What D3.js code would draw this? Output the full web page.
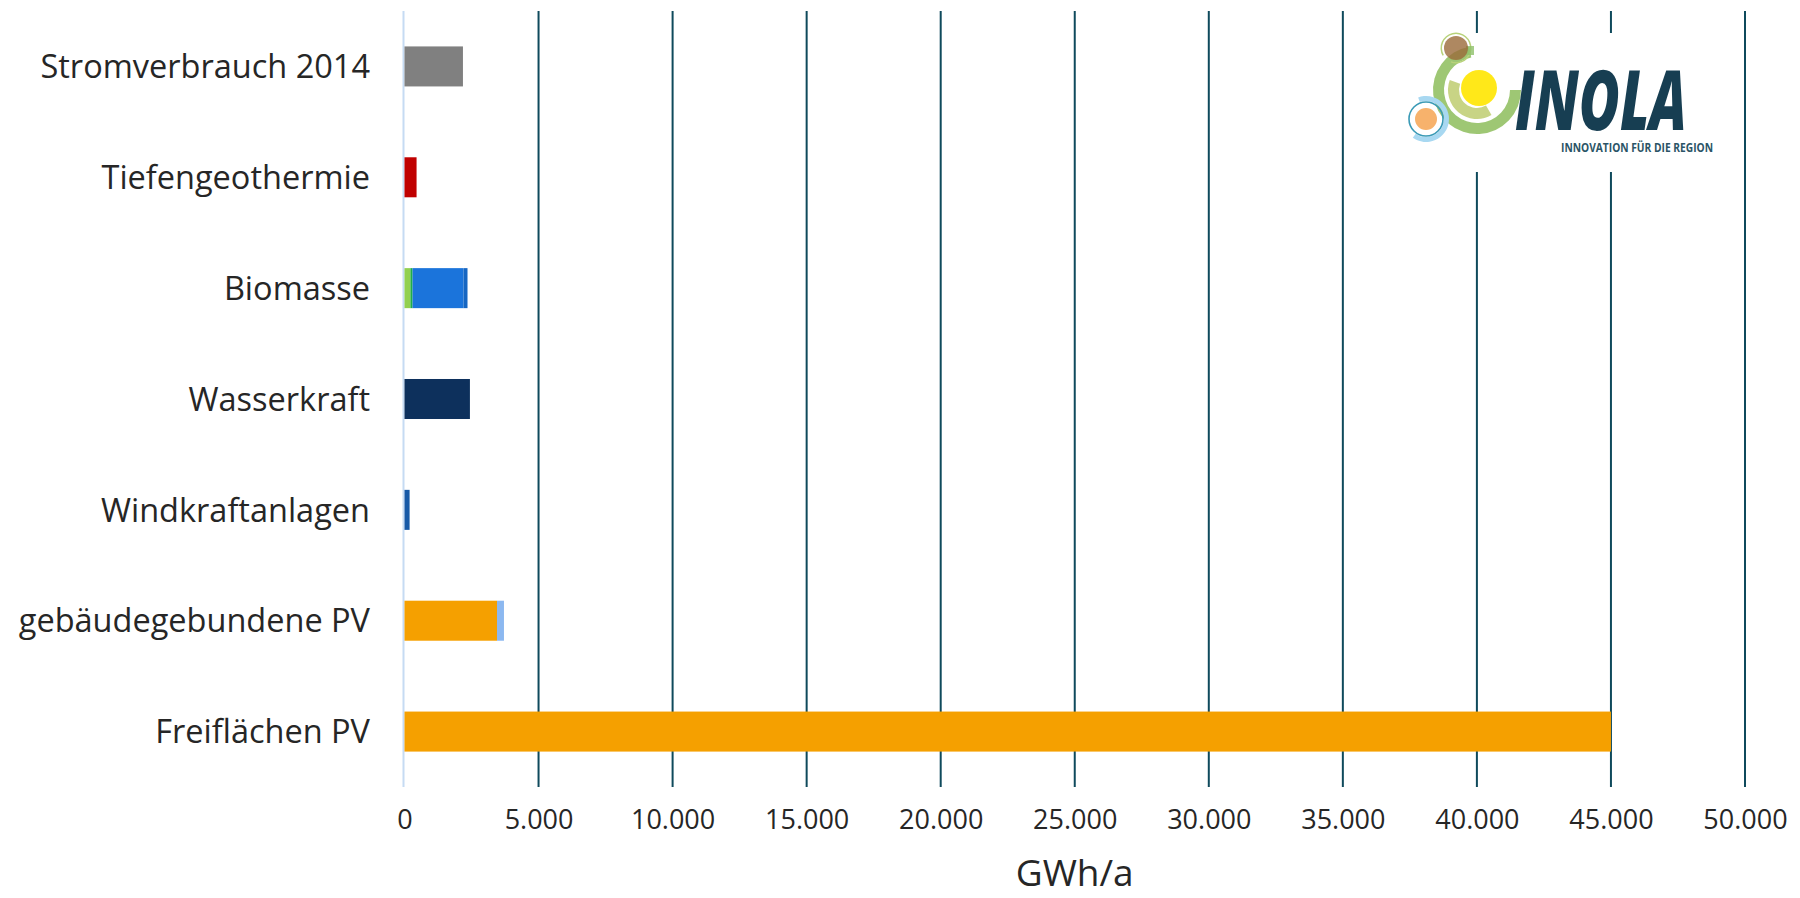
<!DOCTYPE html>
<html><head><meta charset="utf-8">
<script src="https://cdn.jsdelivr.net/npm/d3@7"></script>
<style>
html,body{margin:0;padding:0;background:#fff;}
svg{display:block;}
text{font-family:"Open Sans","Noto Sans",sans-serif;fill:#262626;}
</style></head>
<body>
<svg id="chart" width="1800" height="898"></svg>
<script>
// ---- data ----
const categories = ["Stromverbrauch 2014","Tiefengeothermie","Biomasse","Wasserkraft","Windkraftanlagen","gebäudegebundene PV","Freiflächen PV"];
const seriesNames = ["Stromverbrauch","Tiefengeothermie","Biomasse A","Biomasse B","Biomasse C","Biomasse D","Wasserkraft","Windkraft","Photovoltaik","PV Zusatz"];
const stromverbrauch   = [2180,0,0,0,0,0,0];
const tiefengeothermie = [0,450,0,0,0,0,0];
const biomasseA        = [0,0,220,0,0,0,0];
const biomasseB        = [0,0,80,0,0,0,0];
const biomasseC        = [0,0,1900,0,0,0,0];
const biomasseD        = [0,0,150,0,0,0,0];
const wasserkraft      = [0,0,0,2440,0,0,0];
const windkraft        = [0,0,0,0,190,0,0];
const photovoltaik     = [0,0,0,0,0,3450,45000];
const pvZusatz         = [0,0,0,0,0,260,0];
const seriesColors = ["#808080","#c00000","#92d050","#1fae4a","#1b74db","#1666c2","#0d305c","#1659a7","#f5a000","#8cb8f0"];
const xTicks = [0,5000,10000,15000,20000,25000,30000,35000,40000,45000,50000];
const xTitle = "GWh/a";

// ---- build table ----
const seriesValues = [stromverbrauch,tiefengeothermie,biomasseA,biomasseB,biomasseC,biomasseD,wasserkraft,windkraft,photovoltaik,pvZusatz];
const table = categories.map((c,i)=>{
  const row={category:c};
  seriesNames.forEach((s,j)=>row[s]=seriesValues[j][i]);
  return row;
});
const stacked = d3.stack().keys(seriesNames)(table);

const svg = d3.select("#chart");
const x = d3.scaleLinear().domain([0,50000]).range([404.5,1745]);
const y = d3.scaleBand().domain(categories).range([11,787]).paddingInner(0.639).paddingOuter(0.3195);

const de = d3.formatLocale({decimal:",",thousands:".",grouping:[3],currency:["","€"]});
const fmt = de.format(",d");

// gridlines
svg.append("g").selectAll("line").data(xTicks.slice(1)).join("line")
  .attr("x1",d=>x(d)).attr("x2",d=>x(d)).attr("y1",11).attr("y2",787)
  .attr("stroke","#0f4a5c").attr("stroke-width",2);

// logo background (covers gridlines)
const logo = svg.append("g");
logo.append("rect").attr("x",1395).attr("y",33).attr("width",340).attr("height",139).attr("fill","#fff");

// zero axis line
svg.append("line").attr("x1",x(0)-1).attr("x2",x(0)-1).attr("y1",11).attr("y2",787)
  .attr("stroke","#c6dbf3").attr("stroke-width",2);

// bars
svg.append("g").selectAll("g").data(stacked).join("g")
  .attr("fill",(d,i)=>seriesColors[i])
  .selectAll("rect").data(d=>d.filter(p=>p[1]-p[0]>0)).join("rect")
  .attr("x",d=>x(d[0])).attr("width",d=>x(d[1])-x(d[0]))
  .attr("y",d=>y(d.data.category)).attr("height",y.bandwidth());

// x axis labels
const xAxis = d3.axisBottom(x).tickValues(xTicks).tickFormat(fmt).tickSize(0).tickPadding(0);
const gx = svg.append("g").attr("transform","translate(0,810)").call(xAxis);
gx.select(".domain").remove();
gx.selectAll("text").attr("font-size",27).attr("dy","0.71em").attr("fill","#262626")
  .attr("font-family","'Open Sans','Noto Sans',sans-serif");

// y labels
const yAxis = d3.axisLeft(y).tickSize(0).tickPadding(0);
const gy = svg.append("g").attr("transform","translate(370,0)").call(yAxis);
gy.select(".domain").remove();
gy.selectAll("text").attr("font-size",32.5).attr("dy","0.36em").attr("fill","#262626")
  .attr("font-family","'Open Sans','Noto Sans',sans-serif");

// x title
svg.append("text").attr("x",(x.range()[0]+x.range()[1])/2).attr("y",886)
  .attr("text-anchor","middle").attr("font-size",37).text(xTitle);

// ---- logo ----
const arc = d3.arc();
const deg = Math.PI/180;
// big green arc
logo.append("path").attr("transform","translate(1477,90)")
  .attr("d",arc({innerRadius:33,outerRadius:44,startAngle:90*deg,endAngle:350*deg}))
  .attr("fill","#8dbd5c").attr("opacity",0.85);
// olive inner arc
logo.append("path").attr("transform","translate(1477,90)")
  .attr("d",arc({innerRadius:18,outerRadius:29,startAngle:150*deg,endAngle:290*deg}))
  .attr("fill","#c2cf78").attr("opacity",0.9);
// yellow sun
logo.append("circle").attr("cx",1479).attr("cy",88).attr("r",18).attr("fill","#ffe500").attr("opacity",0.9);
// brown circle with thin ring
logo.append("path").attr("transform","translate(1456,48)")
  .attr("d",arc({innerRadius:14,outerRadius:15.5,startAngle:-120*deg,endAngle:200*deg}))
  .attr("fill","#b8d27a");
logo.append("rect").attr("x",1466).attr("y",46).attr("width",8).attr("height",9).attr("fill","#8fc06a").attr("opacity",0.8);
logo.append("circle").attr("cx",1456).attr("cy",48).attr("r",12).attr("fill","#9a6a3a").attr("opacity",0.8);
// light blue arc, teal ring, orange circle
logo.append("path").attr("transform","translate(1426,119)")
  .attr("d",arc({innerRadius:18,outerRadius:23,startAngle:-20*deg,endAngle:215*deg}))
  .attr("fill","#a8d8f1");
logo.append("circle").attr("cx",1426).attr("cy",119).attr("r",17).attr("fill","none").attr("stroke","#3a9ab6").attr("stroke-width",1.6);
logo.append("circle").attr("cx",1426).attr("cy",119).attr("r",11).attr("fill","#f7b26c");
// text
logo.append("text").attr("x",1515).attr("y",130).attr("font-family","Roboto,'Open Sans',sans-serif")
  .attr("font-weight",900).attr("font-style","italic").attr("font-size",84).attr("fill","#173e52")
  .attr("textLength",172).attr("lengthAdjust","spacingAndGlyphs").style("fill","#173e52").text("INOLA");
logo.append("text").attr("x",1561).attr("y",152).attr("font-family","Roboto,'Open Sans',sans-serif")
  .attr("font-weight",700).attr("font-size",12.5).style("fill","#2b5466")
  .attr("textLength",152).attr("lengthAdjust","spacingAndGlyphs").text("INNOVATION FÜR DIE REGION");
</script>
</body></html>
